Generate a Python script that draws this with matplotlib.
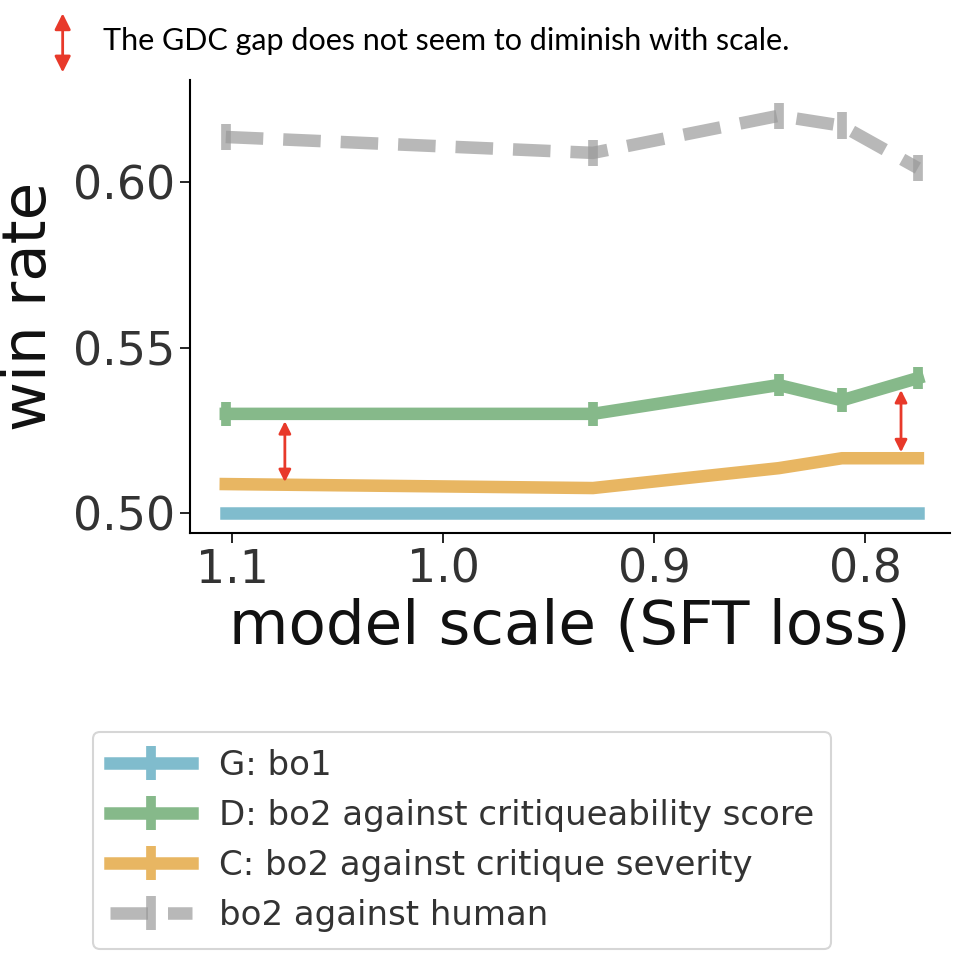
import matplotlib
matplotlib.use("Agg")
import matplotlib.pyplot as plt
import numpy as np

# SFT loss per model size (x axis is inverted)
sft_loss = [1.103, 0.929, 0.841, 0.811, 0.775]

g_bo1 = [0.500, 0.500, 0.500, 0.500, 0.500]
d_bo2 = [0.530, 0.530, 0.5387, 0.5341, 0.5408]
c_bo2 = [0.5088, 0.5076, 0.5136, 0.5166, 0.5166]
human_bo2 = [0.6136, 0.6088, 0.620, 0.617, 0.6042]

g_err = [0.0, 0.0, 0.0, 0.0, 0.0]
d_err = [0.0036, 0.0036, 0.0032, 0.0036, 0.0032]
c_err = [0.0008, 0.0008, 0.0012, 0.001, 0.001]
human_err = [0.004, 0.004, 0.004, 0.004, 0.004]

labels = ["G: bo1", "D: bo2 against critiqueability score",
          "C: bo2 against critique severity", "bo2 against human"]

# gap arrows: (x, top, bottom)
gap_x = [1.075, 0.783]
gap_top = [0.5278, 0.5372]
gap_bot = [0.5094, 0.5184]

blue = "#80bccd"
green = "#86b98a"
orange = "#e8b662"
grey = "#9a9a9a"
red = "#e8392a"
txt = "#333333"

fig = plt.figure(figsize=(9.64, 9.64), dpi=100)
ax = fig.add_axes([0.197, 0.447, 0.788, 0.470])

ax.errorbar(sft_loss, g_bo1, yerr=g_err, color=blue, lw=9, elinewidth=7, label=labels[0])
ax.errorbar(sft_loss, d_bo2, yerr=d_err, color=green, lw=9, elinewidth=7, label=labels[1])
ax.errorbar(sft_loss, c_bo2, yerr=c_err, color=orange, lw=9, elinewidth=7, label=labels[2])
eb = ax.errorbar(sft_loss, human_bo2, yerr=human_err, color=grey, lw=9, elinewidth=7,
                 alpha=0.7, label=labels[3])
eb[0].set_dashes([3, 1.6])

for x, t, b in zip(gap_x, gap_top, gap_bot):
    ax.annotate("", xy=(x, b), xytext=(x, t),
                arrowprops=dict(arrowstyle="<|-|>", color=red, lw=2,
                                mutation_scale=18, shrinkA=0, shrinkB=0))

ax.set_xlim(1.12, 0.76)
ax.set_ylim(0.494, 0.6308)
ax.set_xticks([1.1, 1.0, 0.9, 0.8])
ax.set_xticklabels(["1.1", "1.0", "0.9", "0.8"])
ax.set_yticks([0.50, 0.55, 0.60])
ax.set_yticklabels(["0.50", "0.55", "0.60"])
ax.tick_params(labelsize=33, length=7, width=1.2, colors="black", labelcolor=txt)
ax.spines["top"].set_visible(False)
ax.spines["right"].set_visible(False)
ax.spines["left"].set_linewidth(1.5)
ax.spines["bottom"].set_linewidth(1.5)

ax.set_xlabel("model scale (SFT loss)", fontsize=44, color="#111111", labelpad=4)
ax.set_ylabel("win rate", fontsize=44, color="#111111", labelpad=10)

handles, labs = ax.get_legend_handles_labels()
leg = fig.legend(handles, labs, loc="upper left", bbox_to_anchor=(0.0965, 0.2407),
                 fontsize=24.5, labelcolor=txt, frameon=True, handlelength=2.4,
                 borderpad=0.5, labelspacing=0.5, handletextpad=0.8,
                 borderaxespad=0)
leg.get_frame().set_edgecolor("#cccccc")
leg.get_frame().set_linewidth(1.5)
for line in leg.get_lines():
    line.set_linewidth(11)

# note at top
fig.add_artist(matplotlib.patches.FancyArrowPatch((0.065, 0.989), (0.065, 0.922),
               transform=fig.transFigure, arrowstyle="<|-|>", color=red, lw=2,
               mutation_scale=24))
fig.text(0.107, 0.957, "The GDC gap does not seem to diminish with scale.",
         fontsize=22, family="Lato", va="center", ha="left", color="black")

fig.savefig("out.png", dpi=100)
